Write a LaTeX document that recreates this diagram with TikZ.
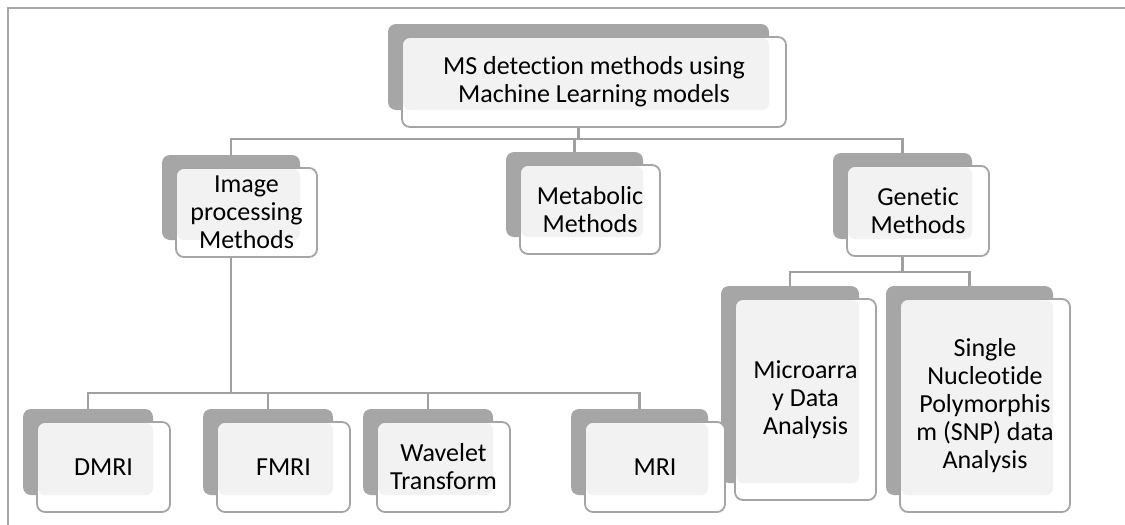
\documentclass[tikz,border=0pt]{standalone}
\usepackage{fontspec}
\setmainfont{Carlito}[Ligatures={NoCommon,NoContextual,NoRare},Contextuals={NoAlternate}]
\usetikzlibrary{calc}
\pgfdeclarelayer{lines}
\pgfdeclarelayer{back}
\pgfsetlayers{lines,back,main}
\definecolor{darkb}{HTML}{A6A6A6}
\definecolor{lightb}{HTML}{F2F2F2}
\definecolor{edgec}{HTML}{A5A5A5}
\definecolor{linec}{HTML}{A0A0A0}
\definecolor{framec}{HTML}{A8A8A8}
\tikzset{
  backbox/.style={fill=darkb, draw=none, rounded corners=8pt, inner sep=0pt, outer sep=0pt},
  frontfill/.style={fill=white, draw=none, rounded corners=8pt, inner sep=0pt, outer sep=0pt},
  frontbox/.style={draw=edgec, line width=1.8pt, rounded corners=8pt, inner sep=0pt, outer sep=0pt,
    align=center, text=black, font=\fontsize{26}{28}\selectfont},
  conn/.style={draw=linec, line width=2.4pt},
}
\newcommand\mkbox[6]{%
  \begin{pgfonlayer}{back}
    \node[backbox, minimum width=#4pt, minimum height=#5pt] (#1b) at (#2,#3) {};
    \node[frontfill, minimum width=#4pt+3pt, minimum height=#5pt+4pt] (#1f) at ($(#1b)+(15.5,15)$) {};
    \fill[lightb, rounded corners=7pt] ([shift={(1pt,-1pt)}]#1f.north west) rectangle (#1b.south east);
  \end{pgfonlayer}
  \node[frontbox, minimum width=#4pt+3pt, minimum height=#5pt+4pt] (#1) at (#1f) {#6};
}
\begin{document}
\begin{tikzpicture}[x=1pt,y=-1pt]
\useasboundingbox (0,0) rectangle (1125,525);
\coordinate (fbl) at (8,526);
\coordinate (ftl) at (8,8);
\coordinate (ftr) at (1126,8);
\draw[framec, line width=2pt] (fbl) -- (ftl) -- (ftr);

\mkbox{top}{578.5}{67}{381}{86}{MS detection methods using\\Machine Learning models}
\mkbox{img}{231}{197.5}{138}{85}{Image\\processing\\Methods}
\mkbox{met}{574.5}{194.5}{137}{85}{Metabolic\\Methods}
\mkbox{gen}{902.5}{196}{139}{86}{Genetic\\Methods}
\mkbox{micro}{790}{384.5}{138}{197}{Microarra\\y Data\\Analysis}
\mkbox{snp}{969.5}{390.5}{167}{209}{Single\\Nucleotide\\Polymorphis\\m (SNP) data\\Analysis}
\mkbox{dmri}{88}{452}{130}{86}{DMRI}
\mkbox{fmri}{268}{452}{130}{86}{FMRI}
\mkbox{wav}{428}{452}{130}{86}{Wavelet\\Transform}
\mkbox{mri}{639.5}{452}{137}{86}{MRI}

\begin{pgfonlayer}{lines}
  \draw[conn] (topb.south) -- ++(0,29) -| (imgb.north);
  \draw[conn] (topb.south) -- ++(0,29) -| (metb.north);
  \draw[conn] (topb.south) -- ++(0,29) -| (genb.north);
  \draw[conn] (imgb.south) -- ++(0,153) -| (dmrib.north);
  \draw[conn] (imgb.south) -- ++(0,153) -| (fmrib.north);
  \draw[conn] (imgb.south) -- ++(0,153) -| (wavb.north);
  \draw[conn] (imgb.south) -- ++(0,153) -| (mrib.north);
  \draw[conn] (genb.south) -- ++(0,33) -| (microb.north);
  \draw[conn] (genb.south) -- ++(0,33) -| (snpb.north);
\end{pgfonlayer}
\end{tikzpicture}
\end{document}
